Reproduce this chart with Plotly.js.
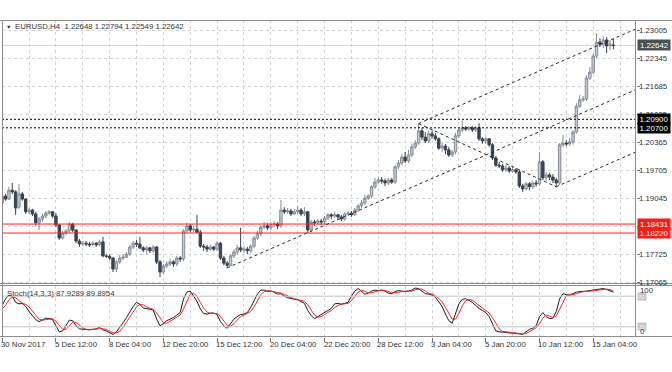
<!DOCTYPE html>
<html><head><meta charset="utf-8">
<script src="https://cdn.plot.ly/plotly-3.0.1.min.js"></script>
<style>html,body{margin:0;padding:0;background:#fff;}#chart{width:672px;height:372px;}</style>
</head><body><div id="chart"></div>
<script>
const symbolName = 'EURUSD,H4';
const headerValues = '1.22648 1.22794 1.22549 1.22642';
const openP = [
1.1893,1.1909,1.1902,1.1923,1.1919,1.1883,1.1914,1.1902,1.1872,1.1876,
1.1867,1.1846,1.1855,1.1862,1.1869,1.1872,1.1862,1.1841,1.1810,1.1822,
1.1827,1.1843,1.1829,1.1803,1.1796,1.1798,1.1796,1.1794,1.1798,1.1794,
1.1801,1.1768,1.1767,1.1763,1.1737,1.1754,1.1763,1.1765,1.1772,1.1789,
1.1798,1.1796,1.1787,1.1782,1.1787,1.1780,1.1789,1.1754,1.1730,1.1744,
1.1749,1.1754,1.1749,1.1763,1.1761,1.1827,1.1839,1.1829,1.1831,1.1824,
1.1791,1.1789,1.1784,1.1789,1.1784,1.1798,1.1763,1.1751,1.1746,1.1768,
1.1777,1.1787,1.1782,1.1784,1.1780,1.1791,1.1810,1.1820,1.1836,1.1839,
1.1834,1.1841,1.1843,1.1839,1.1876,1.1872,1.1874,1.1867,1.1872,1.1876,
1.1867,1.1872,1.1829,1.1848,1.1846,1.1850,1.1848,1.1857,1.1865,1.1862,
1.1865,1.1860,1.1855,1.1867,1.1869,1.1865,1.1876,1.1886,1.1893,1.1904,
1.1909,1.1931,1.1942,1.1947,1.1945,1.1940,1.1947,1.1942,1.1978,1.1987,
1.2001,1.1992,1.2006,1.2025,1.2034,1.2063,1.2048,1.2039,1.2056,1.2051,
1.2044,1.2022,1.2027,1.2018,1.2006,1.2013,1.2051,1.2065,1.2070,1.2067,
1.2070,1.2065,1.2070,1.2044,1.2039,1.2044,1.2030,1.1999,1.1982,1.1980,
1.1971,1.1975,1.1968,1.1971,1.1966,1.1933,1.1926,1.1938,1.1931,1.1940,
1.1938,1.1990,1.1952,1.1959,1.1954,1.1947,1.1940,1.2030,1.2034,1.2032,
1.2037,1.2060,1.2121,1.2136,1.2138,1.2187,1.2201,1.2239,1.2272,1.2267,
1.2277,1.2263,1.22648];
const highP = [
1.1919,1.1914,1.1931,1.1940,1.1923,1.1938,1.1919,1.1904,1.1881,1.1879,
1.1872,1.1860,1.1867,1.1874,1.1876,1.1874,1.1869,1.1843,1.1827,1.1831,
1.1848,1.1846,1.1831,1.1808,1.1803,1.1803,1.1801,1.1803,1.1801,1.1806,
1.1813,1.1772,1.1772,1.1765,1.1758,1.1770,1.1772,1.1777,1.1794,1.1803,
1.1806,1.1813,1.1791,1.1791,1.1789,1.1794,1.1791,1.1758,1.1749,1.1756,
1.1761,1.1758,1.1768,1.1768,1.1831,1.1846,1.1843,1.1839,1.1865,1.1829,
1.1796,1.1794,1.1794,1.1791,1.1803,1.1801,1.1768,1.1756,1.1772,1.1784,
1.1794,1.1834,1.1791,1.1789,1.1796,1.1815,1.1827,1.1841,1.1848,1.1846,
1.1848,1.1850,1.1848,1.1900,1.1883,1.1881,1.1879,1.1879,1.1886,1.1881,
1.1883,1.1874,1.1853,1.1853,1.1855,1.1855,1.1862,1.1869,1.1869,1.1872,
1.1867,1.1865,1.1872,1.1874,1.1874,1.1881,1.1890,1.1900,1.1912,1.1914,
1.1935,1.1952,1.1954,1.1954,1.1950,1.1952,1.1952,1.1982,1.1994,1.2008,
1.2013,1.2018,1.2032,1.2041,1.2079,1.2070,1.2060,1.2063,1.2063,1.2058,
1.2048,1.2034,1.2032,1.2025,1.2018,1.2058,1.2070,1.2088,1.2074,1.2074,
1.2074,1.2074,1.2081,1.2048,1.2048,1.2046,1.2034,1.2004,1.1990,1.1985,
1.1982,1.1980,1.1978,1.1975,1.1971,1.1938,1.1942,1.1942,1.1945,1.1947,
1.2013,1.1994,1.1966,1.1964,1.1961,1.1952,1.2034,1.2053,1.2041,1.2046,
1.2065,1.2128,1.2147,1.2145,1.2194,1.2213,1.2246,1.2293,1.2281,1.2286,
1.2284,1.2277,1.22794];
const lowP = [
1.1888,1.1898,1.1900,1.1914,1.1865,1.1879,1.1898,1.1867,1.1867,1.1862,
1.1839,1.1829,1.1848,1.1857,1.1865,1.1857,1.1836,1.1806,1.1806,1.1817,
1.1822,1.1824,1.1798,1.1789,1.1791,1.1791,1.1789,1.1791,1.1789,1.1791,
1.1765,1.1763,1.1758,1.1730,1.1730,1.1749,1.1758,1.1763,1.1768,1.1784,
1.1789,1.1784,1.1777,1.1772,1.1775,1.1775,1.1749,1.1718,1.1725,1.1739,
1.1744,1.1742,1.1744,1.1754,1.1756,1.1822,1.1824,1.1824,1.1822,1.1787,
1.1780,1.1777,1.1780,1.1780,1.1780,1.1758,1.1746,1.1739,1.1744,1.1763,
1.1772,1.1777,1.1775,1.1772,1.1775,1.1787,1.1806,1.1815,1.1831,1.1829,
1.1829,1.1836,1.1831,1.1834,1.1867,1.1867,1.1862,1.1865,1.1867,1.1862,
1.1862,1.1822,1.1824,1.1839,1.1841,1.1841,1.1843,1.1853,1.1855,1.1857,
1.1853,1.1850,1.1850,1.1862,1.1860,1.1862,1.1872,1.1881,1.1888,1.1900,
1.1904,1.1926,1.1938,1.1938,1.1933,1.1935,1.1938,1.1938,1.1973,1.1982,
1.1987,1.1987,1.2001,1.2020,1.2030,1.2041,1.2034,1.2034,1.2044,1.2039,
1.2018,1.2013,1.2008,1.2001,1.2001,1.2008,1.2046,1.2060,1.2063,1.2063,
1.2060,1.2060,1.2039,1.2032,1.2032,1.2025,1.1994,1.1978,1.1975,1.1966,
1.1966,1.1964,1.1964,1.1961,1.1928,1.1919,1.1923,1.1923,1.1926,1.1931,
1.1933,1.1947,1.1945,1.1947,1.1940,1.1931,1.1935,1.2025,1.2027,1.2027,
1.2030,1.2056,1.2117,1.2131,1.2133,1.2183,1.2197,1.2234,1.2260,1.2258,
1.2246,1.2253,1.22549];
const closeP = [
1.1909,1.1902,1.1923,1.1919,1.1881,1.1914,1.1902,1.1872,1.1876,1.1867,
1.1846,1.1855,1.1862,1.1869,1.1872,1.1862,1.1841,1.1810,1.1822,1.1827,
1.1843,1.1829,1.1803,1.1796,1.1798,1.1796,1.1794,1.1798,1.1794,1.1801,
1.1768,1.1767,1.1763,1.1737,1.1754,1.1763,1.1765,1.1772,1.1789,1.1798,
1.1796,1.1787,1.1782,1.1787,1.1780,1.1789,1.1754,1.1730,1.1744,1.1749,
1.1754,1.1749,1.1763,1.1761,1.1827,1.1839,1.1829,1.1831,1.1824,1.1791,
1.1789,1.1784,1.1789,1.1784,1.1798,1.1763,1.1751,1.1746,1.1768,1.1777,
1.1787,1.1782,1.1784,1.1780,1.1791,1.1810,1.1820,1.1836,1.1839,1.1834,
1.1841,1.1843,1.1839,1.1876,1.1872,1.1874,1.1867,1.1872,1.1876,1.1867,
1.1872,1.1829,1.1848,1.1846,1.1850,1.1848,1.1857,1.1865,1.1862,1.1865,
1.1860,1.1855,1.1867,1.1869,1.1865,1.1876,1.1886,1.1893,1.1904,1.1909,
1.1931,1.1942,1.1947,1.1945,1.1940,1.1947,1.1942,1.1978,1.1987,1.2001,
1.1992,1.2006,1.2025,1.2034,1.2063,1.2048,1.2039,1.2056,1.2051,1.2044,
1.2022,1.2027,1.2018,1.2006,1.2013,1.2051,1.2065,1.2070,1.2067,1.2070,
1.2065,1.2070,1.2044,1.2039,1.2044,1.2030,1.1999,1.1982,1.1980,1.1971,
1.1975,1.1968,1.1971,1.1966,1.1933,1.1926,1.1938,1.1931,1.1940,1.1938,
1.1990,1.1952,1.1959,1.1954,1.1947,1.1940,1.2030,1.2034,1.2032,1.2037,
1.2060,1.2121,1.2136,1.2138,1.2187,1.2201,1.2239,1.2272,1.2267,1.2277,
1.2263,1.2267,1.22642];
const stochK = [
62,75,82,80,68,65,66,60,50,42,
34,30,34,37,36,34,22,10,12,22,
33,32,22,16,15,15,14,15,16,19,
14,12,8,5,10,18,28,38,50,60,
68,64,57,56,54,53,35,22,26,32,
35,38,43,48,75,88,90,80,70,55,
46,45,47,47,44,30,22,17,25,35,
40,44,45,48,58,72,84,92,92,89,
90,88,84,85,80,77,75,74,73,70,
66,52,42,36,40,45,48,52,56,65,
66,64,66,68,80,90,95,90,84,86,
90,92,91,92,90,86,85,89,91,90,
89,90,92,96,95,90,85,84,82,78,
68,60,45,32,27,45,65,74,75,72,
68,62,56,52,48,40,25,12,10,10,
9,8,8,7,6,5,10,15,17,22,
40,48,40,36,37,50,75,85,83,82,
85,88,89,89,90,91,92,93,95,95,
93,90,87.9289];
const stochD = [
55,62,73,79,77,71,66,64,59,51,
42,35,33,34,36,36,31,22,15,15,
22,29,29,23,18,15,15,15,15,17,
16,15,11,8,8,11,19,28,39,49,
59,64,63,59,56,54,47,37,28,27,
31,35,39,43,55,70,84,86,80,68,
57,49,46,46,46,40,32,23,21,26,
33,40,43,46,50,59,71,83,89,91,
90,89,87,86,83,81,77,75,74,72,
70,63,53,43,39,40,44,48,52,58,
62,65,65,66,71,79,88,92,90,87,
87,89,91,92,91,89,87,87,88,90,
90,90,90,93,94,94,90,86,84,81,
76,69,58,46,35,35,46,61,71,74,
72,67,62,57,52,47,38,26,16,11,
10,9,8,8,7,6,7,10,14,18,
26,37,43,41,38,41,54,70,81,83,
83,85,87,89,89,90,91,92,93,94,
94,93,89.8954];
const timeTickBars = [0,16,32,48,64,80,96,112,128,144,160,176];
const timeTickLabels = ['30 Nov 2017','5 Dec 12:00','8 Dec 04:00','12 Dec 20:00','15 Dec 12:00','20 Dec 04:00',
  '22 Dec 20:00','28 Dec 12:00','3 Jan 04:00','5 Jan 20:00','10 Jan 12:00','15 Jan 04:00'];
const priceTicks = [1.17065,1.17725,1.18385,1.19045,1.19705,1.20365,1.21025,1.21685,1.22345,1.23005];
// scale labels that the reference shows (1.18385 sits fully behind the red level boxes)
const priceTickLabels = ['1.17065','1.17725','','1.19045','1.19705','1.20365','1.21025','1.21685','1.22345','1.23005'];
const resistanceLevels = [1.20900, 1.20700];
const supportLevels = [1.18431, 1.18220];
const lastPrice = 1.22642;
// trend/channel lines: [barStart, priceStart, barEnd, priceEnd]
const trendLines = [
  [67, 1.1740, 188.7, 1.2160],
  [124, 1.2080, 188.7, 1.2303],
  [165, 1.1931, 188.7, 1.2013],
  [124, 1.2080, 165, 1.1931]
];
const stochLevels = [80, 20];
const stochScale = [100, 0];
const stochTitle = 'Stoch(14,3,3) 87.9289 89.8954';

// ---------- layout geometry ----------
const W = 672, H = 372, ML = 2, MR = 36, MT = 20, MB = 35;
const plotW = W - ML - MR, plotH = H - MT - MB;
const pxPerBar = 3.358;
const xr0 = -0.06, xr1 = xr0 + plotW / pxPerBar;
const mainDomain = [(H - MB - 284) / plotH, 1];
const stochDomain = [0, (H - MB - 286) / plotH];
const FONT = 'Liberation Sans, Arial, sans-serif';
const FS = 7.8;
const TXT = '#333333';
const GRID = '#d4d4d4';
const FRAME = '#8e8e8e';

const bars = openP.map((_, i) => i);

const traces = [
  {
    type: 'candlestick', x: bars, open: openP, high: highP, low: lowP, close: closeP,
    xaxis: 'x', yaxis: 'y',
    increasing: { fillcolor: '#c3c9d0', line: { color: '#858d97', width: 1 } },
    decreasing: { fillcolor: '#3a4350', line: { color: '#3a4350', width: 1 } },
    whiskerwidth: 0, hoverinfo: 'skip', showlegend: false
  },
  { type: 'scatter', mode: 'lines', x: bars, y: stochK, xaxis: 'x2', yaxis: 'y2',
    line: { color: '#1c1c1c', width: 1 }, hoverinfo: 'skip', showlegend: false },
  { type: 'scatter', mode: 'lines', x: bars, y: stochD, xaxis: 'x2', yaxis: 'y2',
    line: { color: '#ff2222', width: 1 }, hoverinfo: 'skip', showlegend: false }
];

const shapes = [];
const pxX = px => (px - ML) / plotW;        // pixel -> paper x
const pxY = py => (H - MB - py) / plotH;    // pixel -> paper y

// bid line
shapes.push({ type: 'line', xref: 'paper', x0: 0, x1: 1, yref: 'y', y0: lastPrice, y1: lastPrice,
  line: { color: '#d2d2d2', width: 1 }, layer: 'below' });
// resistance dotted lines
resistanceLevels.forEach(v => shapes.push({ type: 'line', xref: 'paper', x0: 0, x1: 1, yref: 'y', y0: v, y1: v,
  line: { color: '#000000', width: 1, dash: '2px,2px' } }));
// support red lines
supportLevels.forEach(v => shapes.push({ type: 'line', xref: 'paper', x0: 0, x1: 1, yref: 'y', y0: v, y1: v,
  line: { color: '#ff2020', width: 1 } }));
// channel lines
trendLines.forEach(t => shapes.push({ type: 'line', xref: 'x', yref: 'y', x0: t[0], y0: t[1], x1: t[2], y1: t[3],
  line: { color: '#2a2a2a', width: 1, dash: '3px,3px' } }));
// stoch levels
stochLevels.forEach(v => shapes.push({ type: 'line', xref: 'paper', x0: 0, x1: 1, yref: 'y2', y0: v, y1: v,
  line: { color: '#c4c4c4', width: 1 } }));
// frame lines
const hFrame = (py) => shapes.push({ type: 'line', xref: 'paper', yref: 'paper', x0: pxX(0), x1: pxX(W), y0: pxY(py), y1: pxY(py),
  line: { color: FRAME, width: 1 } });
hFrame(20.5); hFrame(283.5); hFrame(285.5); hFrame(336.5);
shapes.push({ type: 'line', xref: 'paper', yref: 'paper', x0: pxX(2.5), x1: pxX(2.5), y0: pxY(20), y1: pxY(337),
  line: { color: FRAME, width: 1 } });
shapes.push({ type: 'line', xref: 'paper', yref: 'paper', x0: pxX(635.5), x1: pxX(635.5), y0: pxY(20), y1: pxY(337),
  line: { color: FRAME, width: 1 } });

const annotations = [];
const font = (c, s) => ({ family: FONT, size: s || FS, color: c || TXT });
// header
annotations.push({ xref: 'paper', yref: 'paper', x: pxX(4), y: pxY(27), xanchor: 'left', yanchor: 'middle',
  text: '▼', showarrow: false, font: font('#333', 5.5) });
annotations.push({ xref: 'paper', yref: 'paper', x: pxX(13), y: pxY(27), xanchor: 'left', yanchor: 'middle',
  text: symbolName + '  ' + headerValues, showarrow: false, font: font('#333') });
// price scale labels
priceTicks.forEach((v, i) => { if (priceTickLabels[i]) annotations.push({ xref: 'paper', yref: 'y', x: pxX(638), y: v,
  xanchor: 'left', yanchor: 'middle', text: priceTickLabels[i], showarrow: false, font: font(TXT), borderpad: 0 }); });
// highlighted labels
const boxLabel = (v, bg, fg) => annotations.push({ xref: 'paper', yref: 'y', x: pxX(636.5), y: v, xanchor: 'left', yanchor: 'middle',
  text: v.toFixed(5), showarrow: false, font: font(fg), bgcolor: bg, borderpad: 1, width: 30, height: 8, align: 'center' });
resistanceLevels.forEach(v => boxLabel(v, '#000000', '#ffffff'));
supportLevels.forEach(v => boxLabel(v, '#ff1a1a', '#ffffff'));
boxLabel(lastPrice, '#4a5058', '#ffffff');
// stoch labels
annotations.push({ xref: 'paper', yref: 'paper', x: pxX(5), y: pxY(293), xanchor: 'left', yanchor: 'middle',
  text: stochTitle, showarrow: false, font: font('#3c3c3c') });
stochLevels.forEach(v => annotations.push({ xref: 'paper', yref: 'y2', x: pxX(637), y: v, xanchor: 'left', yanchor: 'middle',
  text: String(v), showarrow: false, font: font('#f4f4f4', 6), bgcolor: '#c4c4c4', borderpad: 0.5 }));
stochScale.forEach((v, i) => annotations.push({ xref: 'paper', yref: 'paper', x: pxX(639), y: pxY(i === 0 ? 290 : 331),
  xanchor: 'left', yanchor: 'middle', text: String(v), showarrow: false, font: font(TXT), borderpad: 0 }));
// time labels
timeTickBars.forEach((b, i) => annotations.push({ xref: 'x', yref: 'paper', x: b, y: pxY(339), xanchor: 'left', yanchor: 'top',
  xshift: -2, text: timeTickLabels[i], showarrow: false, font: font(TXT), borderpad: 0 }));

const layout = {
  width: W, height: H, margin: { l: ML, r: MR, t: MT, b: MB, pad: 0 },
  paper_bgcolor: '#ffffff', plot_bgcolor: '#ffffff', showlegend: false,
  boxgap: 0.28, boxgroupgap: 0,
  xaxis: { domain: [0, 1], range: [xr0, xr1], anchor: 'y', rangeslider: { visible: false },
    tickmode: 'linear', tick0: 0, dtick: 8, showticklabels: false, ticks: '',
    showgrid: true, gridcolor: GRID, griddash: 'dot', gridwidth: 1, zeroline: false, showline: false, fixedrange: true },
  xaxis2: { domain: [0, 1], range: [xr0, xr1], anchor: 'y2',
    tickmode: 'linear', tick0: 0, dtick: 16, ticks: 'outside', ticklen: 4, tickcolor: '#777', tickwidth: 1,
    showticklabels: false, showgrid: true, gridcolor: GRID, griddash: 'dot',
    minor: { tick0: 0, dtick: 8, showgrid: true, gridcolor: GRID, griddash: 'dot', ticks: '' },
    zeroline: false, showline: false, fixedrange: true },
  yaxis: { domain: mainDomain, range: [1.17018, 1.23241], side: 'right', anchor: 'x',
    tickmode: 'array', tickvals: priceTicks, ticks: 'outside', ticklen: 3, tickcolor: '#777', tickwidth: 1,
    showticklabels: false, showgrid: true, gridcolor: GRID, griddash: 'dot', zeroline: false, showline: false, fixedrange: true },
  yaxis2: { domain: stochDomain, range: [0, 100], side: 'right', anchor: 'x2',
    showticklabels: false, showgrid: false, zeroline: false, showline: false, ticks: '', fixedrange: true },
  shapes: shapes, annotations: annotations
};

Plotly.newPlot('chart', traces, layout, { staticPlot: true, displayModeBar: false });
</script>
</body></html>
